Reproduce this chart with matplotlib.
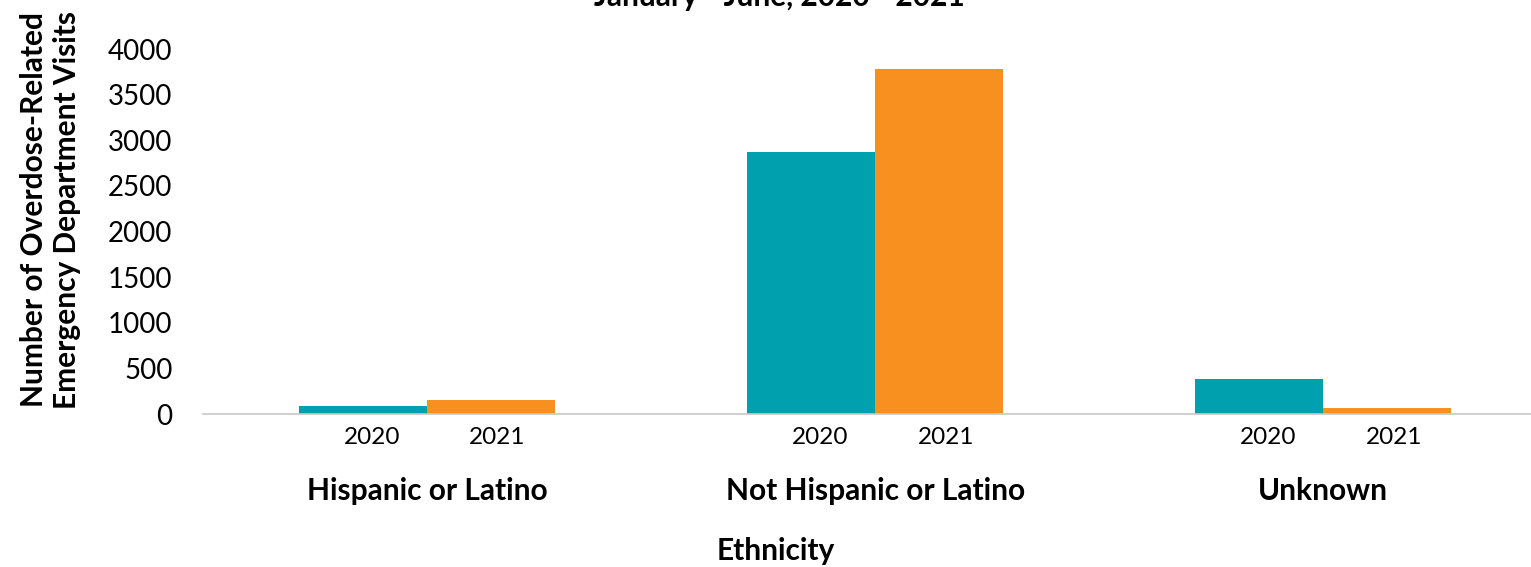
import matplotlib.pyplot as plt
import matplotlib.transforms as mtransforms
import numpy as np

plt.rcParams["font.family"] = ["Lato", "DejaVu Sans"]

categories = ["Hispanic or Latino", "Not Hispanic or Latino", "Unknown"]
years = ["2020", "2021"]
visits_2020 = [90, 2875, 385]
visits_2021 = [155, 3785, 65]

COLORS = {"2020": "#00A0AE", "2021": "#F7901E"}

fig = plt.figure(figsize=(15.31, 5.67), dpi=100)
ax = fig.add_axes([0.1326, 0.2698, 0.878, 0.6437])

x = np.arange(len(categories))
width = 0.285

ax.bar(x - width / 2, visits_2020, width, color=COLORS["2020"])
ax.bar(x + width / 2, visits_2021, width, color=COLORS["2021"])

ax.set_xlim(-0.5, 2.5)
ax.set_ylim(0, 4000)
ax.set_yticks(np.arange(0, 4001, 500))
ax.tick_params(axis="y", length=0, labelsize=20, pad=22)
ax.set_xticks([])

for side in ["top", "right", "left"]:
    ax.spines[side].set_visible(False)
ax.spines["bottom"].set_color("#C8C8C8")
ax.spines["bottom"].set_linewidth(1.2)

# подписи годов и категорий под осью
trans = mtransforms.blended_transform_factory(ax.transData, ax.transAxes)
for i, cat in enumerate(categories):
    for j, yr in enumerate(years):
        xpos = i + (j - 0.5) * width + (0.02 if j == 0 else 0.015)
        ax.text(xpos, -0.065, yr, transform=trans, ha="center", va="center",
                fontsize=17.5)
    ax.text(i, -0.21, cat, transform=trans, ha="center", va="center",
            fontsize=21.5, fontweight="bold")

fig.text(0.507, 0.028, "Ethnicity", ha="center", va="center",
         fontsize=21.5, fontweight="bold")
fig.text(0.033, 0.63, "Number of Overdose-Related\nEmergency Department Visits",
         rotation=90, ha="center", va="center", fontsize=21.5,
         fontweight="bold", linespacing=1.2)
fig.text(0.509, 0.9895, "January - June, 2020 - 2021", ha="center", va="baseline",
         fontsize=21.5, fontweight="bold")

plt.savefig("out.png", dpi=100)
